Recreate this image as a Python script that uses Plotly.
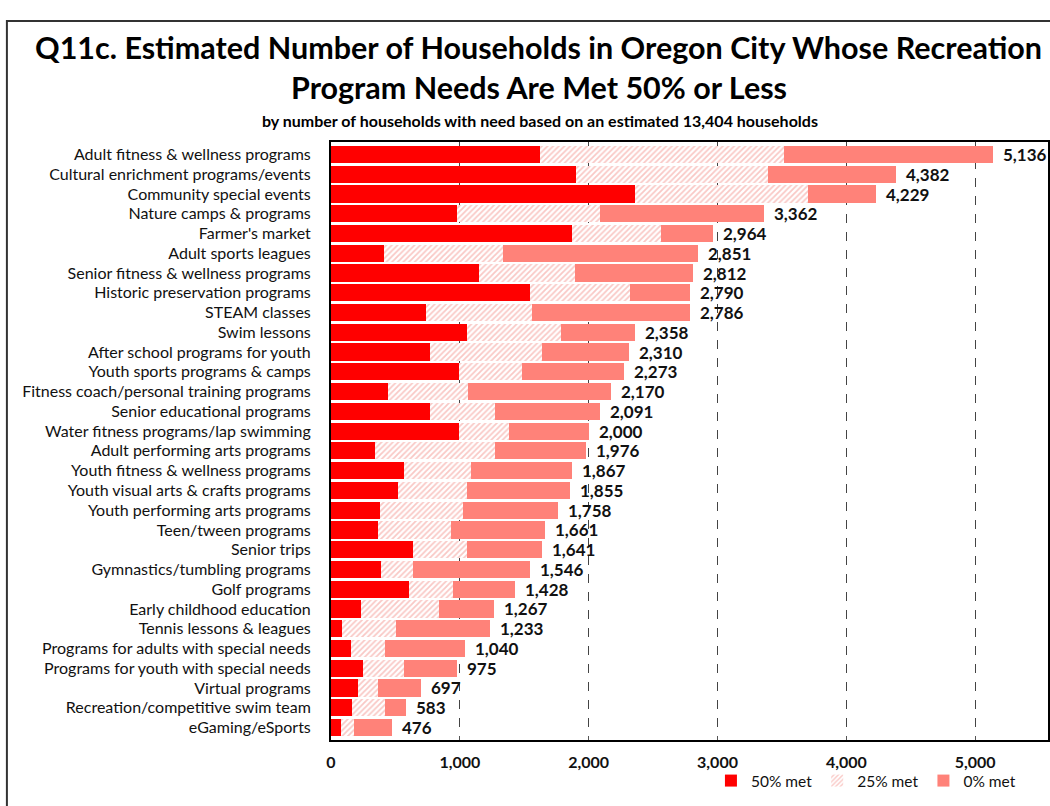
import plotly.graph_objects as go

# Programs, listed from largest to smallest unmet need
programs = [
    "Adult fitness & wellness programs",
    "Cultural enrichment programs/events",
    "Community special events",
    "Nature camps & programs",
    "Farmer's market",
    "Adult sports leagues",
    "Senior fitness & wellness programs",
    "Historic preservation programs",
    "STEAM classes",
    "Swim lessons",
    "After school programs for youth",
    "Youth sports programs & camps",
    "Fitness coach/personal training programs",
    "Senior educational programs",
    "Water fitness programs/lap swimming",
    "Adult performing arts programs",
    "Youth fitness & wellness programs",
    "Youth visual arts & crafts programs",
    "Youth performing arts programs",
    "Teen/tween programs",
    "Senior trips",
    "Gymnastics/tumbling programs",
    "Golf programs",
    "Early childhood education",
    "Tennis lessons & leagues",
    "Programs for adults with special needs",
    "Programs for youth with special needs",
    "Virtual programs",
    "Recreation/competitive swim team",
    "eGaming/eSports",
]

# Households whose needs are 50% met
met_50 = [1620, 1904, 2359, 977, 1873, 413, 1145, 1545, 734, 1059,
          765, 997, 439, 765, 995, 341, 563, 522, 382, 364,
          636, 385, 605, 233, 88, 152, 248, 207, 165, 78]

# Households whose needs are 25% met
met_25 = [1899, 1491, 1341, 1108, 685, 920, 749, 773, 824, 729,
          876, 486, 623, 506, 385, 930, 520, 530, 646, 571,
          416, 253, 338, 604, 413, 264, 315, 157, 251, 98]

# Total households with needs met 50% or less
totals = [5136, 4382, 4229, 3362, 2964, 2851, 2812, 2790, 2786, 2358,
          2310, 2273, 2170, 2091, 2000, 1976, 1867, 1855, 1758, 1661,
          1641, 1546, 1428, 1267, 1233, 1040, 975, 697, 583, 476]

# Households whose needs are 0% met (remainder of each total)
met_0 = [t - a - b for t, a, b in zip(totals, met_50, met_25)]

x_ticks = [0, 1000, 2000, 3000, 4000, 5000]

FONT = "Lato"

fig = go.Figure()
fig.add_trace(go.Bar(
    y=programs, x=met_50, orientation="h", name="50% met",
    marker=dict(color="#FF0000", line=dict(width=0)),
))
fig.add_trace(go.Bar(
    y=programs, x=met_25, orientation="h", name="25% met",
    marker=dict(color="#FFFFFF", line=dict(width=0),
                pattern=dict(shape="/", fgcolor="#F4928C", bgcolor="#FFFFFF",
                             size=4, solidity=0.45)),
))
fig.add_trace(go.Bar(
    y=programs, x=met_0, orientation="h", name="0% met",
    marker=dict(color="#FF8279", line=dict(width=0)),
))

# Total labels at the end of each bar
for p, t in zip(programs, totals):
    fig.add_annotation(
        x=t, y=p, xref="x", yref="y", text=f"{t:,}", showarrow=False,
        xanchor="left", yanchor="middle", xshift=8,
        font=dict(family=FONT, size=17, color="#111111", weight="bold"),
    )

L, T, B = 331, 142, 66
W, H = 1050, 806
PW, PH = W - L, H - T - B


def px_x(px):
    return (px - L) / PW


def px_y(py):
    return (H - B - py) / PH


# Title block
fig.add_annotation(
    x=px_x(539), y=px_y(47), xref="paper", yref="paper", showarrow=False,
    text="Q11c. Estimated Number of Households in Oregon City Whose Recreation",
    font=dict(family=FONT, size=30.5, color="#000000", weight="bold"),
    xanchor="center", yanchor="middle",
)
fig.add_annotation(
    x=px_x(540), y=px_y(87), xref="paper", yref="paper", showarrow=False,
    text="Program Needs Are Met 50% or Less",
    font=dict(family=FONT, size=30.5, color="#000000", weight="bold"),
    xanchor="center", yanchor="middle",
)
fig.add_annotation(
    x=px_x(541), y=px_y(120), xref="paper", yref="paper", showarrow=False,
    text="by number of households with need based on an estimated 13,404 households",
    font=dict(family=FONT, size=16, color="#000000", weight="bold"),
    xanchor="center", yanchor="middle",
)

# Outer frame around the chart
fig.add_shape(
    type="rect", xref="paper", yref="paper",
    x0=px_x(6), x1=px_x(1070), y0=px_y(830), y1=px_y(21),
    line=dict(color="#333333", width=2), fillcolor="rgba(0,0,0,0)",
    layer="above",
)

fig.update_layout(
    width=W, height=H,
    margin=dict(l=L, r=0, t=T, b=B, pad=0),
    barmode="stack", bargap=0.13,
    plot_bgcolor="#FFFFFF", paper_bgcolor="#FFFFFF",
    font=dict(family=FONT, color="#111111"),
    showlegend=True,
    legend=dict(
        orientation="h", x=px_x(712), y=px_y(781), xanchor="left", yanchor="middle",
        font=dict(family=FONT, size=15.5, color="#111111"),
        itemwidth=30, tracegroupgap=0, bgcolor="rgba(0,0,0,0)",
        traceorder="normal",
    ),
    xaxis=dict(
        range=[0, PW / 0.1292], tickvals=x_ticks,
        ticktext=[f"{v:,}" for v in x_ticks],
        tickfont=dict(family=FONT, size=16, color="#111111", weight="bold"),
        showgrid=True, gridcolor="#444444", griddash="dash", gridwidth=1.2,
        zeroline=False, showline=True, linecolor="#000000", linewidth=2,
        mirror=True, ticks="inside", ticklen=4, tickcolor="#555555",
        ticklabelstandoff=7, fixedrange=True,
    ),
    yaxis=dict(
        categoryorder="array", categoryarray=programs, autorange="reversed",
        tickfont=dict(family=FONT, size=16, color="#111111"),
        showgrid=False, zeroline=False, showline=True, linecolor="#000000",
        linewidth=2, mirror=True, ticks="", ticklabelstandoff=15,
        fixedrange=True,
    ),
)

fig.write_html("out.html")
